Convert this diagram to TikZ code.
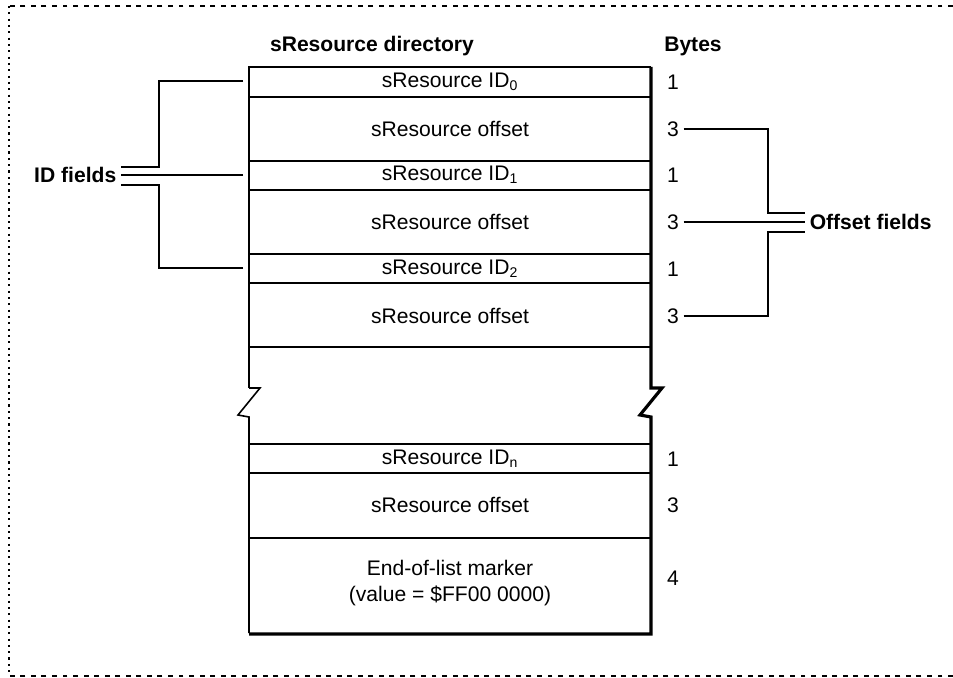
\documentclass[tikz,border=0pt]{standalone}
\usepackage{fontspec}
\setmainfont{Liberation Sans}

\tikzset{
  txt/.style={font=\fontsize{12}{14}\selectfont, inner sep=0pt},
  lbl/.style={font=\fontsize{12}{14}\selectfont\bfseries, inner sep=2.5pt},
  byte/.style={font=\fontsize{12}{14}\selectfont, inner sep=2.5pt},
  ln/.style={line width=0.9pt},
  shd/.style={line width=1.8pt},
  dots/.style={line width=1pt, dash pattern=on 2.8pt off 3.2pt},
}

\begin{document}
\begin{tikzpicture}[x=0.02cm, y=-0.02cm]
  \useasboundingbox (0,0) rectangle (953,678);
  % dotted frame
  \draw[dots] (953,6) -- (9,6);
  \draw[dots] (953,676) -- (9,676);
  \draw[line width=1pt, dash pattern=on 1.2pt off 2.4pt] (9,6) -- (9,676);

  % headings
  \node[lbl] (title) at (372,46) {sResource directory};
  \node[lbl] (bytes) at (693,46) {Bytes};

  % directory box, broken in the middle
  \draw[ln] (249,388) -- (249,67) -- (651,67);
  \draw[ln] (249,388) -- (260,388) -- (238,415) -- (249,417) -- (249,633);
  \draw[shd] (651,67) -- (651,388) -- (662,388) -- (640,415) -- (651,417)
    -- (651,634) -- (249,634);
  \foreach \y in {97,161,190,254,283,347,444,473,538}
    \draw[ln] (249,\y) -- (651,\y);

  % entries
  \node[txt] (id0)  at (450,82)  {sResource ID\textsubscript{0}};
  \node[txt] (off0) at (450,129) {sResource offset};
  \node[txt] (id1)  at (450,175) {sResource ID\textsubscript{1}};
  \node[txt] (off1) at (450,222) {sResource offset};
  \node[txt] (id2)  at (450,269) {sResource ID\textsubscript{2}};
  \node[txt] (off2) at (450,316) {sResource offset};
  \node[txt] (idn)  at (450,459) {sResource ID\textsubscript{n}};
  \node[txt] (offn) at (450,505) {sResource offset};
  \node[txt, align=center, font=\fontsize{12}{14.5}\selectfont] (endm) at (450,583)
    {End-of-list marker\\(value = \$FF00 0000)};

  % byte counts
  \node[byte] (b0) at (673,82)  {1};
  \node[byte] (b1) at (673,129) {3};
  \node[byte] (b2) at (673,175) {1};
  \node[byte] (b3) at (673,222) {3};
  \node[byte] (b4) at (673,269) {1};
  \node[byte] (b5) at (673,316) {3};
  \node[byte] (b6) at (673,459) {1};
  \node[byte] (b7) at (673,505) {3};
  \node[byte] (b8) at (673,578) {4};

  % ID fields bracket
  \node[lbl, anchor=east] (idf) at (121,175) {ID fields};
  \coordinate (li0) at (243,81);
  \coordinate (li1) at (243,175);
  \coordinate (li2) at (243,268);
  \coordinate (lj1) at (159,167);
  \coordinate (lj2) at (159,185);
  \draw[ln] (li0) -| (lj1) -- (lj1 -| idf.east);
  \draw[ln] (li1) -- (idf.east);
  \draw[ln] (li2) -| (lj2) -- (lj2 -| idf.east);

  % Offset fields bracket
  \node[lbl, anchor=west] (offf) at (805,222) {Offset fields};
  \coordinate (rj1) at (768,213);
  \coordinate (rj2) at (768,232);
  \draw[ln] (b1.east) -| (rj1) -- (rj1 -| offf.west);
  \draw[ln] (b3.east) -- (offf.west);
  \draw[ln] (b5.east) -| (rj2) -- (rj2 -| offf.west);
\end{tikzpicture}
\end{document}
